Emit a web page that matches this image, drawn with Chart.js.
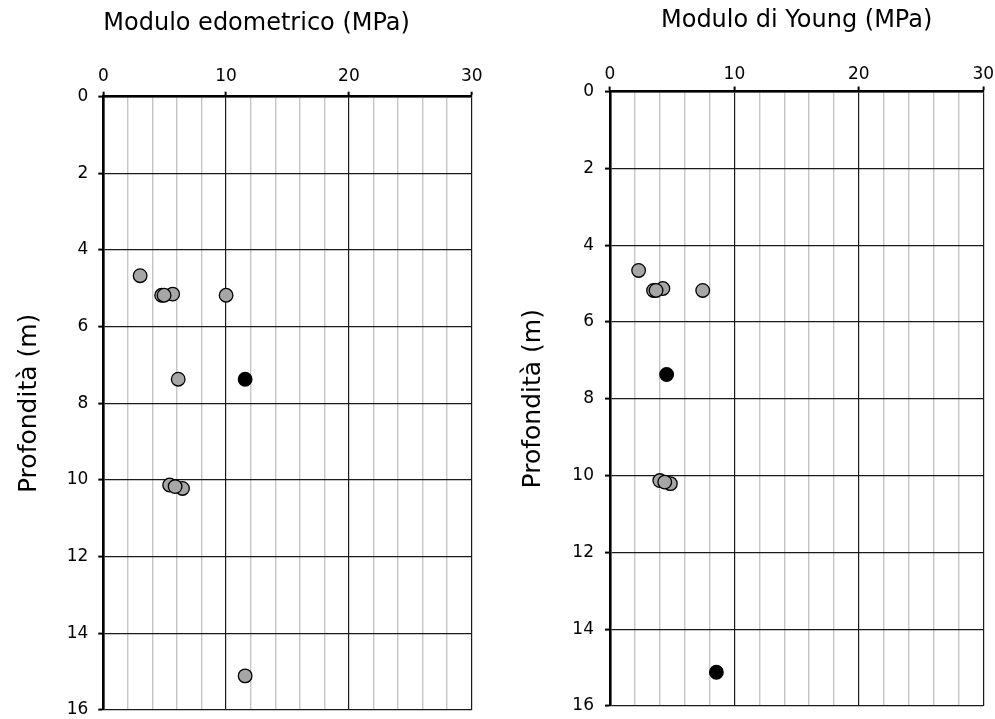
<!DOCTYPE html>
<html lang="it">
<head>
<meta charset="utf-8">
<title>Moduli vs profondità</title>
<script src="https://cdn.jsdelivr.net/npm/chart.js@4.4.1/dist/chart.umd.min.js"></script>
<style>
    html, body { margin: 0; padding: 0; background: #fff; }
    #wrap { position: relative; width: 995px; height: 719px; }
    .panel { position: absolute; top: 0; height: 719px; }
    #panel-edo { left: 0; width: 497px; }
    #panel-young { left: 497px; width: 498px; }
</style>
</head>
<body>
<div id="wrap">
    <div class="panel" id="panel-edo"><canvas id="chart-edo"></canvas></div>
    <div class="panel" id="panel-young"><canvas id="chart-young"></canvas></div>
</div>
<script>
/* Moduli di deformazione con la profondità — due pannelli a dispersione */

// ── Dati ─────────────────────────────────────────────────────────────────

// Modulo edometrico (MPa) vs profondità (m)
const edoGreyX  = [3.0, 4.75, 5.65, 4.95, 10.0, 6.1, 5.4, 6.45, 5.85, 11.55];
const edoGreyY  = [4.67, 5.18, 5.15, 5.18, 5.18, 7.37, 10.13, 10.22, 10.17, 15.11];
const edoBlackX = [11.55];
const edoBlackY = [7.37];

// Modulo di Young (MPa) vs profondità (m)
const youngGreyX  = [2.3, 3.5, 4.25, 3.7, 7.45, 4.0, 4.85, 4.4];
const youngGreyY  = [4.66, 5.18, 5.13, 5.18, 5.18, 10.13, 10.21, 10.17];
const youngBlackX = [4.55, 8.55];
const youngBlackY = [7.37, 15.12];

const xTickLabels = ['0', '10', '20', '30'];
const yTickLabels = ['0', '2', '4', '6', '8', '10', '12', '14', '16'];

const FONT = "'DejaVu Sans', sans-serif";

function toPoints(xs, ys) {
    return xs.map((x, i) => ({ x, y: ys[i] }));
}

function isMajor(value) {
    return xTickLabels.includes(String(value));
}

// ── Chart ────────────────────────────────────────────────────────────────

function makeDepthChart(canvasId, opts) {
    const canvas = document.getElementById(canvasId);

    const pointStyle = {
        borderColor: '#000',
        borderWidth: 1.3,
        pointRadius: 6.8,
    };

    const datasets = [
        { data: toPoints(opts.greyX, opts.greyY), backgroundColor: '#a6a6a6', ...pointStyle },
        { data: toPoints(opts.blackX, opts.blackY), backgroundColor: '#000', ...pointStyle },
    ];

    return new Chart(canvas, {
        type: 'scatter',
        data: { datasets },
        options: {
            responsive: true,
            maintainAspectRatio: false,
            animation: false,
            events: [],
            layout: { padding: opts.padding },
            plugins: {
                legend: { display: false },
                tooltip: { enabled: false },
            },
            scales: {
                x: {
                    type: 'linear',
                    position: 'top',
                    min: 0,
                    max: 30,
                    // fixed axis band so the plot area lands where we want it
                    afterFit: scale => {
                        scale.height = opts.xAxisHeight;
                        scale.paddingLeft = 0;
                        scale.paddingRight = 0;
                    },
                    ticks: {
                        stepSize: 2,
                        autoSkip: false,
                        maxRotation: 0,
                        padding: opts.xTickPad,
                        color: '#000',
                        font: { family: FONT, size: 17 },
                        callback: v => (isMajor(v) ? String(v) : ''),
                    },
                    grid: {
                        color: ctx => (isMajor(ctx.tick.value) ? '#1a1a1a' : '#c6c6c6'),
                        lineWidth: ctx => (isMajor(ctx.tick.value) ? 1.2 : 1.4),
                        tickColor: ctx => (isMajor(ctx.tick.value) ? '#000' : 'rgba(0,0,0,0)'),
                        tickWidth: 2,
                        tickLength: 5,
                    },
                    border: { color: '#000', width: 2.6 },
                    title: {
                        display: true,
                        text: opts.xTitle,
                        align: opts.xTitleAlign,
                        color: '#000',
                        font: { family: FONT, size: 24 },
                        padding: { top: opts.xTitleTop, bottom: 0 },
                    },
                },
                y: {
                    type: 'linear',
                    reverse: true,
                    min: 0,
                    max: 16,
                    afterFit: scale => {
                        scale.width = opts.yAxisWidth;
                        scale.paddingTop = 0;
                        scale.paddingBottom = 0;
                    },
                    ticks: {
                        stepSize: 2,
                        autoSkip: false,
                        padding: opts.yTickPad,
                        color: '#000',
                        font: { family: FONT, size: 17 },
                        callback: v => (yTickLabels.includes(String(v)) ? String(v) : ''),
                    },
                    grid: {
                        color: '#1a1a1a',
                        lineWidth: 1.2,
                        tickColor: '#000',
                        tickWidth: 2,
                        tickLength: 5,
                    },
                    border: { color: '#000', width: 2.6 },
                    title: {
                        display: true,
                        text: 'Profondità (m)',
                        color: '#000',
                        font: { family: FONT, size: 25 },
                        padding: { top: opts.yTitleTop, bottom: 0 },
                    },
                },
            },
        },
    });
}

makeDepthChart('chart-edo', {
    greyX: edoGreyX, greyY: edoGreyY,
    blackX: edoBlackX, blackY: edoBlackY,
    xTitle: 'Modulo edometrico (MPa)',
    xTitleAlign: 'start',
    xTitleTop: 9,
    xTickPad: 5,
    yTitleTop: 14,
    yTickPad: 10,
    xAxisHeight: 96.7,
    yAxisWidth: 103.3,
    padding: { left: 0, right: 25.3, top: 0, bottom: 9 },
});

makeDepthChart('chart-young', {
    greyX: youngGreyX, greyY: youngGreyY,
    blackX: youngBlackX, blackY: youngBlackY,
    xTitle: 'Modulo di Young (MPa)',
    xTitleAlign: 'center',
    xTitleTop: 6,
    xTickPad: 2,
    yTitleTop: 21,
    yTickPad: 11,
    xAxisHeight: 91.5,
    yAxisWidth: 113,
    padding: { left: 0, right: 11.7, top: 0, bottom: 13 },
});
</script>
</body>
</html>
